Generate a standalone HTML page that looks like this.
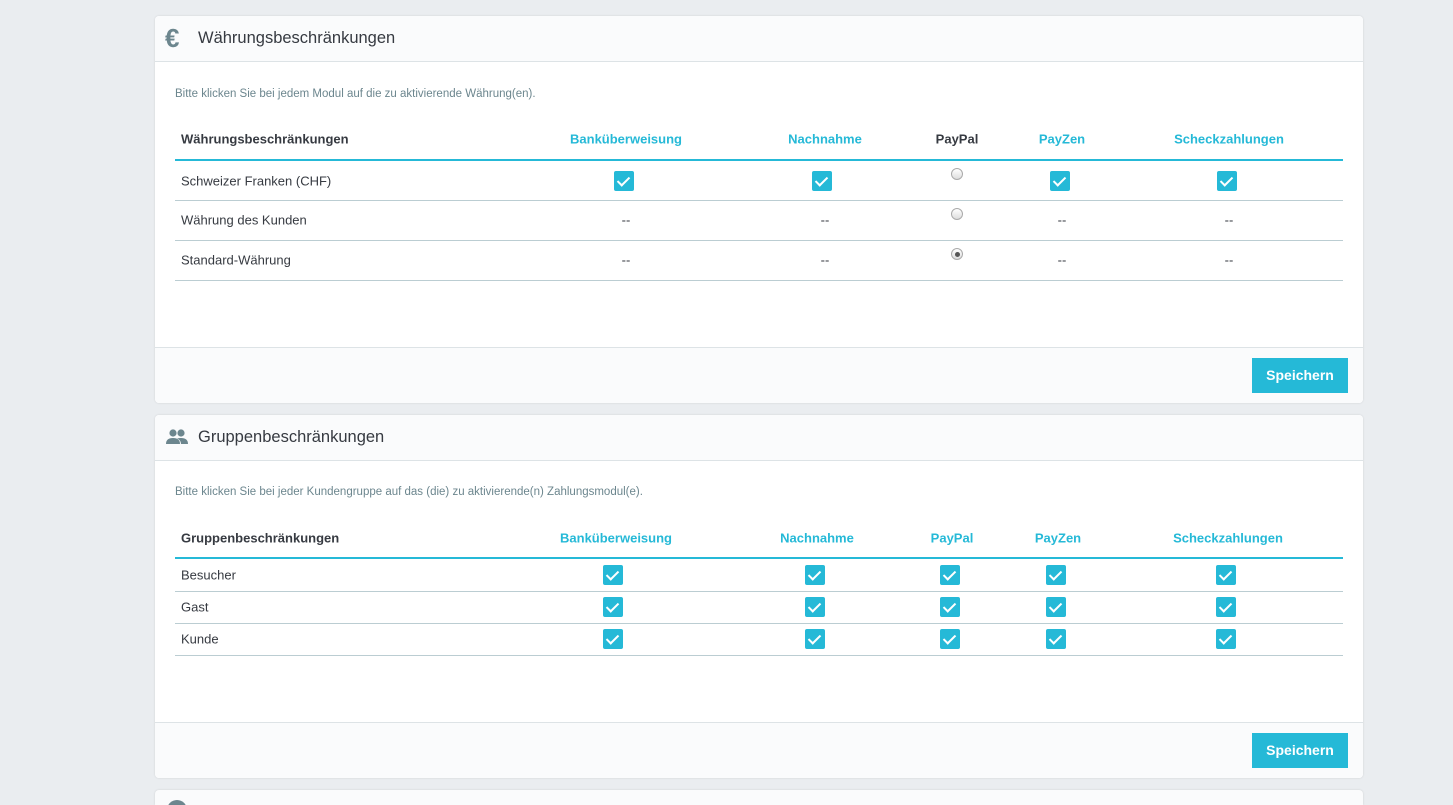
<!DOCTYPE html>
<html style="overflow:hidden;width:1453px;height:805px"><head><meta charset="utf-8"><style>
*{box-sizing:border-box;margin:0;padding:0}
body{width:1453px;height:805px;background:#eaedf0;position:relative;overflow:hidden;font-family:"Liberation Sans",sans-serif;color:#363a41}
.panel{position:absolute;left:155px;width:1208px;background:#fff;border-radius:4px;box-shadow:0 0 2px rgba(0,0,0,.12);overflow:hidden}
.hd{position:absolute;left:0;top:0;width:100%;height:46px;background:#fafbfc;border-bottom:1px solid #dde3e6}
.hd span{position:absolute;left:43px;top:13px;font-size:16.5px;color:#363a41}
.ft{position:absolute;left:0;width:100%;background:#fafbfc;border-top:1px solid #dde3e6}
.btn{position:absolute;right:15px;top:10px;width:96px;height:35px;background:#25b9d7;color:#fff;font-weight:bold;font-size:14px;text-align:center;line-height:35px}
.t{position:absolute;font-size:13px;white-space:nowrap;transform:translate(-50%,-50%)}
.l{position:absolute;font-size:13px;white-space:nowrap;transform:translateY(-50%)}
.h{font-weight:bold;color:#25b9d7}
.cb{position:absolute;width:20px;height:20px;background:#25b9d7;border-radius:2px;transform:translate(-50%,-50%)}
.cb:after{content:"";position:absolute;left:6px;top:3px;width:5px;height:10px;border:solid #fff;border-width:0 2px 2px 0;transform:rotate(45deg)}
.rd{position:absolute;width:12px;height:12px;border-radius:50%;border:1px solid #aaa;background:linear-gradient(#fff,#ddd);transform:translate(-50%,-50%)}
.rd.on:after{content:"";position:absolute;left:2.5px;top:2.5px;width:5px;height:5px;border-radius:50%;background:#555}
.line{position:absolute;left:20px;width:1168px;height:1px;background:#bbcdd2}
.blue{height:2px;background:#25b9d7}
.intro{position:absolute;left:20px;font-size:11.5px;color:#6c868e}
</style></head><body>

<div class="panel" style="top:16px;height:387px">
  <div class="hd"><svg style="position:absolute;left:10px;top:9px" width="26" height="28" viewBox="0 0 26 28"><text x="0" y="22" font-size="26" font-weight="bold" fill="#6c868e" font-family="Liberation Sans">€</text></svg><span>Währungsbeschränkungen</span></div>
  <div class="intro" style="top:72px">Bitte klicken Sie bei jedem Modul auf die zu aktivierende Währung(en).</div>
  <div class="l" style="left:26px;top:123px;font-weight:bold">Währungsbeschränkungen</div>
  <div class="t h" style="left:471px;top:123px">Banküberweisung</div>
  <div class="t h" style="left:670px;top:123px">Nachnahme</div>
  <div class="t" style="left:802px;top:123px;font-weight:bold">PayPal</div>
  <div class="t h" style="left:907px;top:123px">PayZen</div>
  <div class="t h" style="left:1074px;top:123px">Scheckzahlungen</div>
  <div class="line blue" style="top:143px"></div>
  <div class="l" style="left:26px;top:165px">Schweizer Franken (CHF)</div>
  <div class="cb" style="left:469px;top:165px"></div>
  <div class="cb" style="left:667px;top:165px"></div>
  <div class="rd" style="left:802px;top:158px"></div>
  <div class="cb" style="left:905px;top:165px"></div>
  <div class="cb" style="left:1072px;top:165px"></div>
  <div class="line" style="top:184px"></div>
  <div class="l" style="left:26px;top:204px">Währung des Kunden</div>
  <div class="t" style="left:471px;top:204px">--</div>
  <div class="t" style="left:670px;top:204px">--</div>
  <div class="rd" style="left:802px;top:198px"></div>
  <div class="t" style="left:907px;top:204px">--</div>
  <div class="t" style="left:1074px;top:204px">--</div>
  <div class="line" style="top:224px"></div>
  <div class="l" style="left:26px;top:244px">Standard-Währung</div>
  <div class="t" style="left:471px;top:244px">--</div>
  <div class="t" style="left:670px;top:244px">--</div>
  <div class="rd on" style="left:802px;top:238px"></div>
  <div class="t" style="left:907px;top:244px">--</div>
  <div class="t" style="left:1074px;top:244px">--</div>
  <div class="line" style="top:264px"></div>
  <div class="ft" style="top:331px;height:56px"><div class="btn">Speichern</div></div>
</div>

<div class="panel" style="top:415px;height:363px">
  <div class="hd"><svg style="position:absolute;left:10px;top:13px" width="24" height="18" viewBox="0 0 24 18"><circle cx="8" cy="5" r="3.6" fill="#6c868e"/><circle cx="16" cy="5" r="3.6" fill="#6c868e"/><path d="M1 16 Q1 10 8 10 Q15 10 15 16Z" fill="#6c868e"/><path d="M12 10.5 Q14 10 16 10 Q23 10 23 16 L16 16 Q16 12 12 10.5Z" fill="#6c868e"/></svg><span>Gruppenbeschränkungen</span></div>
  <div class="intro" style="top:71px">Bitte klicken Sie bei jeder Kundengruppe auf das (die) zu aktivierende(n) Zahlungsmodul(e).</div>
  <div class="l" style="left:26px;top:123px;font-weight:bold">Gruppenbeschränkungen</div>
  <div class="t h" style="left:461px;top:123px">Banküberweisung</div>
  <div class="t h" style="left:662px;top:123px">Nachnahme</div>
  <div class="t h" style="left:797px;top:123px">PayPal</div>
  <div class="t h" style="left:903px;top:123px">PayZen</div>
  <div class="t h" style="left:1073px;top:123px">Scheckzahlungen</div>
  <div class="line blue" style="top:142px"></div>
  <div class="l" style="left:26px;top:160px">Besucher</div>
  <div class="cb" style="left:458px;top:160px"></div><div class="cb" style="left:660px;top:160px"></div><div class="cb" style="left:795px;top:160px"></div><div class="cb" style="left:901px;top:160px"></div><div class="cb" style="left:1071px;top:160px"></div>
  <div class="line" style="top:176px"></div>
  <div class="l" style="left:26px;top:192px">Gast</div>
  <div class="cb" style="left:458px;top:192px"></div><div class="cb" style="left:660px;top:192px"></div><div class="cb" style="left:795px;top:192px"></div><div class="cb" style="left:901px;top:192px"></div><div class="cb" style="left:1071px;top:192px"></div>
  <div class="line" style="top:208px"></div>
  <div class="l" style="left:26px;top:224px">Kunde</div>
  <div class="cb" style="left:458px;top:224px"></div><div class="cb" style="left:660px;top:224px"></div><div class="cb" style="left:795px;top:224px"></div><div class="cb" style="left:901px;top:224px"></div><div class="cb" style="left:1071px;top:224px"></div>
  <div class="line" style="top:240px"></div>
  <div class="ft" style="top:307px;height:56px"><div class="btn">Speichern</div></div>
</div>

<div class="panel" style="top:790px;height:15px;background:#fafbfc;border-radius:4px 4px 0 0">
  <div style="position:absolute;left:12px;top:10px;width:20px;height:20px;border-radius:50%;background:#6c868e"></div>
</div>
</body></html>
